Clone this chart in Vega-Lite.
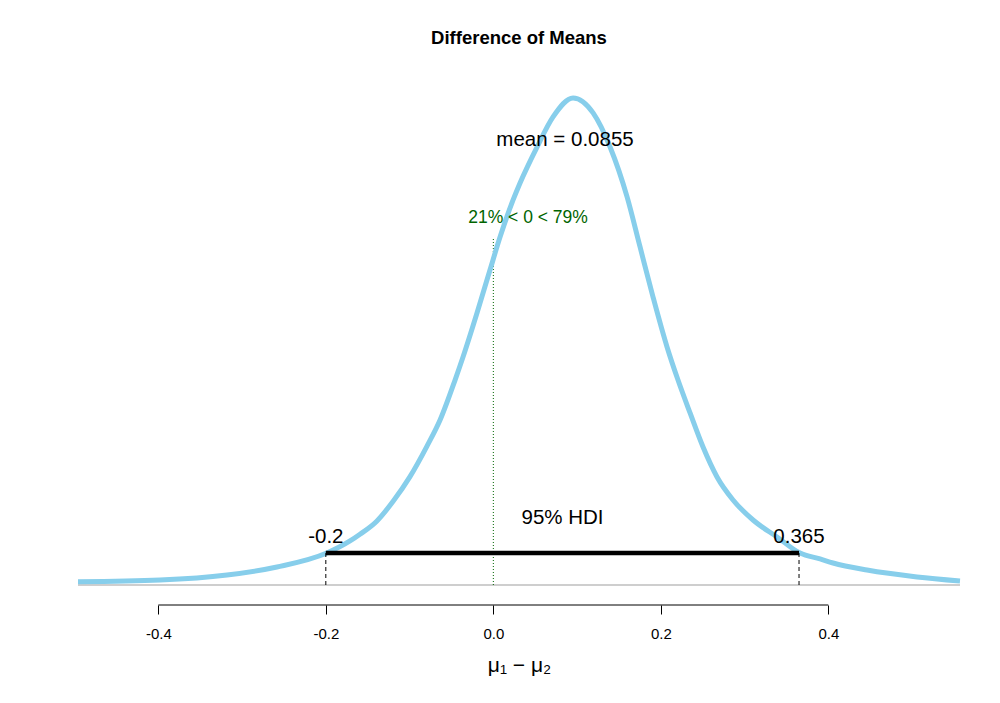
{
  "$schema": "https://vega.github.io/schema/vega-lite/v6.json",
  "autosize": {"type": "none"},
  "padding": {"left": 78, "top": 80, "right": 40, "bottom": 98},
  "width": 882,
  "height": 525,
  "background": "white",
  "title": {
    "text": "Difference of Means",
    "font": "Liberation Sans",
    "fontSize": 18.5,
    "fontWeight": "bold",
    "color": "black",
    "anchor": "middle",
    "offset": 33
  },
  "datasets": {
    "curve": [
      {"x": -0.4959, "y": 0.0196},
      {"x": -0.398, "y": 0.0298},
      {"x": -0.318, "y": 0.0595},
      {"x": -0.2583, "y": 0.1071},
      {"x": -0.1989, "y": 0.19},
      {"x": -0.1711, "y": 0.262},
      {"x": -0.1592, "y": 0.302},
      {"x": -0.1392, "y": 0.38},
      {"x": -0.1194, "y": 0.5},
      {"x": -0.0995, "y": 0.645},
      {"x": -0.0795, "y": 0.824},
      {"x": -0.0636, "y": 0.982},
      {"x": -0.0457, "y": 1.22},
      {"x": -0.0362, "y": 1.357},
      {"x": -0.0195, "y": 1.619},
      {"x": -0.004, "y": 1.875},
      {"x": 0.008, "y": 2.071},
      {"x": 0.0236, "y": 2.292},
      {"x": 0.0319, "y": 2.393},
      {"x": 0.0522, "y": 2.607},
      {"x": 0.0713, "y": 2.786},
      {"x": 0.0952, "y": 2.899},
      {"x": 0.1191, "y": 2.81},
      {"x": 0.1394, "y": 2.607},
      {"x": 0.1597, "y": 2.31},
      {"x": 0.1752, "y": 2.012},
      {"x": 0.1907, "y": 1.714},
      {"x": 0.2074, "y": 1.417},
      {"x": 0.2205, "y": 1.22},
      {"x": 0.2349, "y": 1.024},
      {"x": 0.2504, "y": 0.821},
      {"x": 0.2671, "y": 0.643},
      {"x": 0.2862, "y": 0.506},
      {"x": 0.3101, "y": 0.387},
      {"x": 0.3387, "y": 0.286},
      {"x": 0.3662, "y": 0.19},
      {"x": 0.3901, "y": 0.155},
      {"x": 0.4056, "y": 0.131},
      {"x": 0.4462, "y": 0.089},
      {"x": 0.5059, "y": 0.048},
      {"x": 0.5572, "y": 0.024}
    ],
    "baseline": [{"x": -0.4959, "x2": 0.5572, "y": 0}],
    "axisline": [{"x": -0.4, "x2": 0.4, "y": -0.119}],
    "hdi": [{"x": -0.2, "x2": 0.365, "y": 0.19}],
    "hdiEnds": [
      {"x": -0.2, "y": 0, "y2": 0.19},
      {"x": 0.365, "y": 0, "y2": 0.19}
    ],
    "compLine": [{"x": 0, "y": 0, "y2": 2.071}],
    "bigText": [
      {"x": 0.0856, "y": 2.649, "label": "mean = 0.0855"},
      {"x": 0.0826, "y": 0.399, "label": "95% HDI"},
      {"x": -0.2, "y": 0.286, "label": "-0.2"},
      {"x": 0.365, "y": 0.286, "label": "0.365"}
    ],
    "compText": [{"x": 0.0414, "y": 2.185, "label": "21% < 0 < 79%"}]
  },
  "encoding": {
    "x": {
      "field": "x",
      "type": "quantitative",
      "scale": {"domain": [-0.4959, 0.5572], "nice": false, "zero": false},
      "axis": {
        "values": [-0.4, -0.2, 0, 0.2, 0.4],
        "labelExpr": "replace(format(datum.value, '.1f'), '\u2212', '-')",
        "domain": false,
        "grid": false,
        "tickSize": 9,
        "tickColor": "black",
        "labelFont": "Liberation Sans",
        "labelFontSize": 15,
        "labelColor": "black",
        "labelPadding": 12,
        "title": "μ₁ − μ₂",
        "titleFont": "Liberation Sans",
        "titleFontSize": 21,
        "titleFontWeight": "normal",
        "titleColor": "black",
        "titlePadding": 13
      }
    },
    "y": {
      "field": "y",
      "type": "quantitative",
      "scale": {"domain": [-0.119, 3.006], "nice": false, "zero": false},
      "axis": null
    }
  },
  "layer": [
    {
      "data": {"name": "baseline"},
      "mark": {"type": "rule", "color": "#bebebe", "strokeWidth": 1.5},
      "encoding": {"x2": {"field": "x2"}}
    },
    {
      "data": {"name": "axisline"},
      "mark": {"type": "rule", "color": "black", "strokeWidth": 1},
      "encoding": {"x2": {"field": "x2"}}
    },
    {
      "data": {"name": "compLine"},
      "mark": {"type": "rule", "color": "#006400", "strokeWidth": 1, "strokeDash": [1, 2]},
      "encoding": {"y2": {"field": "y2"}}
    },
    {
      "data": {"name": "curve"},
      "mark": {"type": "line", "color": "#87CEEB", "strokeWidth": 5, "interpolate": "monotone"},
      "encoding": {}
    },
    {
      "data": {"name": "hdiEnds"},
      "mark": {"type": "rule", "color": "black", "strokeWidth": 1, "strokeDash": [4, 3]},
      "encoding": {"y2": {"field": "y2"}}
    },
    {
      "data": {"name": "hdi"},
      "mark": {"type": "rule", "color": "black", "strokeWidth": 4.5},
      "encoding": {"x2": {"field": "x2"}}
    },
    {
      "data": {"name": "bigText"},
      "mark": {"type": "text", "font": "Liberation Sans", "fontSize": 20.5, "color": "black", "align": "center", "baseline": "middle"},
      "encoding": {"text": {"field": "label"}}
    },
    {
      "data": {"name": "compText"},
      "mark": {"type": "text", "font": "Liberation Sans", "fontSize": 17.5, "color": "#006400", "align": "center", "baseline": "middle"},
      "encoding": {"text": {"field": "label"}}
    }
  ],
  "config": {"view": {"stroke": null}}
}
